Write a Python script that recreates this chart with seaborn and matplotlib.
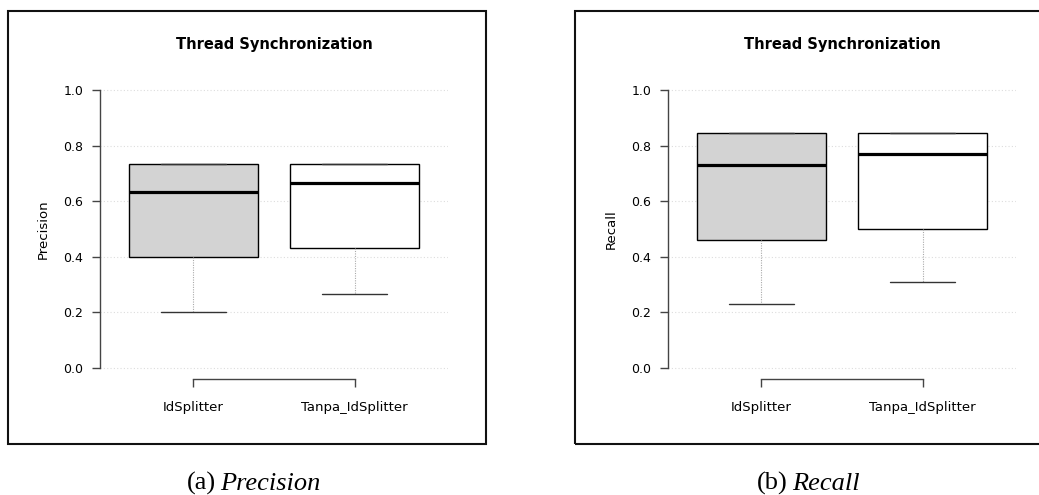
import numpy as np
import pandas as pd
import seaborn as sns
import matplotlib.pyplot as plt
from matplotlib.patches import Rectangle

# five-number summaries (min, Q1, median, Q3, max)
methods = ["IdSplitter", "Tanpa_IdSplitter"]
precision_idsplitter = [0.200, 0.400, 0.633, 0.733, 0.733]
precision_tanpa = [0.267, 0.433, 0.667, 0.733, 0.733]
recall_idsplitter = [0.231, 0.462, 0.731, 0.846, 0.846]
recall_tanpa = [0.308, 0.500, 0.769, 0.846, 0.846]

title = "Thread Synchronization"
y_ticks = [0.0, 0.2, 0.4, 0.6, 0.8, 1.0]

sns.set_style("white")
plt.rcParams["font.family"] = ["DejaVu Sans"]
plt.rcParams["text.color"] = "black"
plt.rcParams["xtick.color"] = "black"
plt.rcParams["ytick.color"] = "black"
plt.rcParams["axes.labelcolor"] = "black"


def long_form(a, b, name):
    return pd.DataFrame({
        "method": [methods[0]] * len(a) + [methods[1]] * len(b),
        name: a + b,
    })


df_prec = long_form(precision_idsplitter, precision_tanpa, "Precision")
df_rec = long_form(recall_idsplitter, recall_tanpa, "Recall")

W, H = 1039, 495
fig = plt.figure(figsize=(W / 100, H / 100), dpi=100)

# panel frames
fig.patches.append(Rectangle((8 / W, 1 - 444 / H), 478 / W, 433 / H,
                             transform=fig.transFigure, fill=False,
                             edgecolor="#111111", linewidth=1.5))
fig.patches.append(Rectangle((575 / W, 1 - 444 / H), 480 / W, 433 / H,
                             transform=fig.transFigure, fill=False,
                             edgecolor="#111111", linewidth=1.5))

panels = [
    (df_prec, "Precision", 100, "(a)", "Precision", 216),
    (df_rec, "Recall", 668, "(b)", "Recall", 788),
]

for df, col, left_px, cap_a, cap_b, cap_x in panels:
    ax = fig.add_axes([left_px / W, 1 - 379 / H, 348 / W, 300 / H])
    sns.boxplot(
        data=df, x="method", y=col, hue="method", ax=ax,
        palette={methods[0]: "#d3d3d3", methods[1]: "white"},
        saturation=1, width=0.8, whis=(0, 100), showfliers=False,
        legend=False, linecolor="black", linewidth=1,
        boxprops={"edgecolor": "black", "linewidth": 1},
        medianprops={"color": "black", "linewidth": 2.3},
        whiskerprops={"color": "#aaaaaa", "linewidth": 0.8, "linestyle": (0, (1, 1.2))},
        capprops={"color": "#333333", "linewidth": 1},
    )
    ax.set_xlim(-0.58, 1.58)
    ax.set_ylim(-0.04, 1.04)
    ax.set_yticks(y_ticks)
    ax.set_yticklabels([f"{v:.1f}" for v in y_ticks])
    ax.set_xticks([0, 1])
    ax.set_xticklabels(methods)
    ax.set_xlabel("")
    ax.set_ylabel(col, fontsize=9.5)
    ax.yaxis.set_label_coords(-0.145, 0.5)

    ax.yaxis.grid(True, linestyle=(0, (1, 2)), color="#dddddd", linewidth=0.8)
    ax.set_axisbelow(True)

    for s in ["top", "right"]:
        ax.spines[s].set_visible(False)
    ax.spines["left"].set_bounds(0, 1)
    ax.spines["bottom"].set_bounds(0, 1)
    for s in ["left", "bottom"]:
        ax.spines[s].set_color("#444444")
        ax.spines[s].set_linewidth(1)

    ax.tick_params(axis="y", length=6, width=1, color="#444444",
                   labelsize=9, pad=6, left=True)
    ax.tick_params(axis="x", length=6, width=1, color="#444444",
                   labelsize=9.5, pad=10, bottom=True)

    ax.text(0.5, (379 - 45) / 300, title, transform=ax.transAxes,
            ha="center", va="center", fontsize=10.5, fontweight="bold")

    # caption under each panel
    fig.text(cap_x / W, 1 - 490 / H, cap_a, ha="right", va="baseline",
             fontsize=19, family="Liberation Serif")
    fig.text((cap_x + 4) / W, 1 - 490 / H, cap_b, ha="left", va="baseline",
             fontsize=19, family="Liberation Serif", style="italic")

fig.savefig("out.png", dpi=100)
